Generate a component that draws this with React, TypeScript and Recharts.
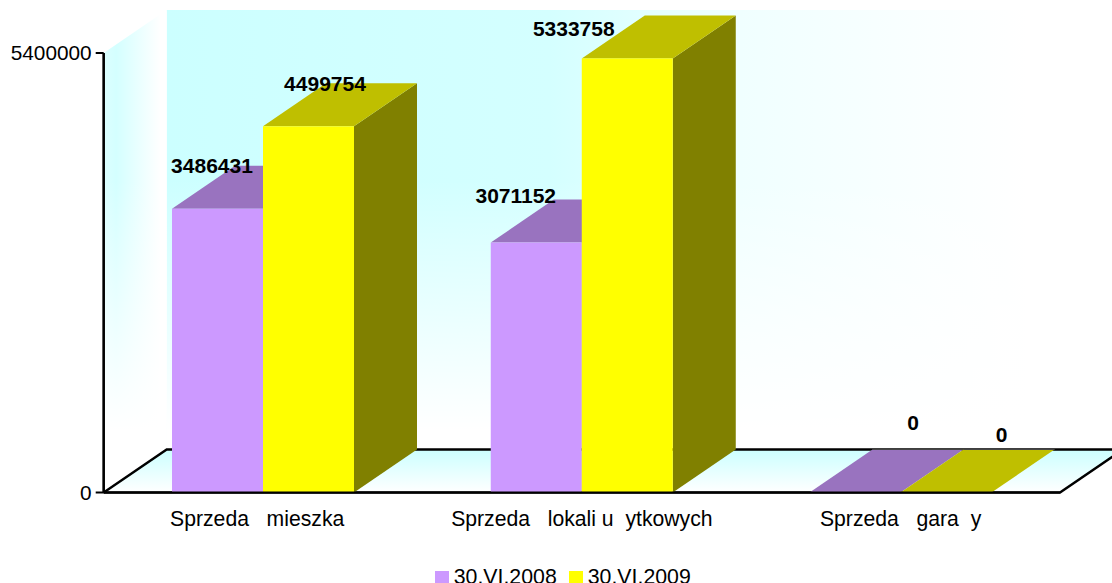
import { BarChart, Bar, XAxis, YAxis, LabelList, Legend, usePlotArea } from "recharts";

const NB = "\u00a0";
const categories = [
  `Sprzeda${NB}${NB}${NB}mieszka${NB}${NB}`,
  `Sprzeda${NB}${NB}${NB}lokali${NB}u${NB}${NB}ytkowych`,
  `Sprzeda${NB}${NB}${NB}gara${NB}${NB}y`,
];
const values2008 = [3486431, 3071152, 0];
const values2009 = [4499754, 5333758, 0];
const yTicks = [0, 5400000];
const seriesNames = ["30.VI.2008", "30.VI.2009"];

const chartData = categories.map((name, i) => ({
  name,
  v2008: values2008[i],
  v2009: values2009[i],
}));

// the labels sit where they were dragged in the original, not over the bars
const labelNudge2008 = [[-5.5, -43], [-20.5, -47], [58, -70]];
const labelNudge2009 = [[16.5, -43], [-53.5, -30], [55.5, -58]];

const DEPTH_X = 63;
const DEPTH_Y = 43;
const FONT = "'Liberation Sans', Arial, sans-serif";

function Box3D(props: any) {
  const { x, y, width, height, front, top, side } = props;
  const r = x + width;
  const b = y + height;
  return (
    <g>
      <polygon
        points={`${r},${y} ${r + DEPTH_X},${y - DEPTH_Y} ${r + DEPTH_X},${b - DEPTH_Y} ${r},${b}`}
        fill={side}
      />
      <polygon
        points={`${x},${y} ${r},${y} ${r + DEPTH_X},${y - DEPTH_Y} ${x + DEPTH_X},${y - DEPTH_Y}`}
        fill={top}
      />
      {height > 0 && <rect x={x} y={y} width={width} height={height} fill={front} />}
      {!height && (
        <line x1={x + DEPTH_X} y1={y - DEPTH_Y} x2={r + DEPTH_X} y2={y - DEPTH_Y} stroke="#444" strokeWidth={1} />
      )}
    </g>
  );
}

function Walls() {
  const plot = usePlotArea();
  if (!plot) return null;
  const l = plot.x;
  const r = plot.x + plot.width;
  const t = plot.y;
  const b = plot.y + plot.height;
  const backL = l + DEPTH_X;
  const backT = t - DEPTH_Y;
  const backB = b - DEPTH_Y;
  const sidePoints = `${l},${t} ${backL},${backT} ${backL},${backB} ${l},${b}`;
  return (
    <g>
      <defs>
        <linearGradient id="backWall" x1="0" y1="0" x2="1" y2="0">
          <stop offset="0" stopColor="#ccffff" />
          <stop offset="0.4" stopColor="#d4ffff" />
          <stop offset="0.6" stopColor="#f0ffff" />
          <stop offset="0.9" stopColor="#ffffff" />
        </linearGradient>
        <linearGradient id="sideWall" x1="0" y1="0" x2="1" y2="0">
          <stop offset="0" stopColor="#dcffff" />
          <stop offset="0.2" stopColor="#d4ffff" />
          <stop offset="0.9" stopColor="#ffffff" />
        </linearGradient>
        <linearGradient id="wallFade" gradientUnits="userSpaceOnUse" x1="0" y1={backT + 170} x2="0" y2={backT + 420}>
          <stop offset="0" stopColor="#ffffff" stopOpacity={0} />
          <stop offset="1" stopColor="#ffffff" stopOpacity={1} />
        </linearGradient>
        <linearGradient id="floorFill" x1="0" y1="0" x2="0" y2="1">
          <stop offset="0" stopColor="#ccffff" />
          <stop offset="1" stopColor="#ffffff" />
        </linearGradient>
      </defs>
      <rect x={backL} y={backT} width={r - l} height={backB - backT} fill="url(#backWall)" />
      <rect x={backL} y={backT} width={r - l} height={backB - backT} fill="url(#wallFade)" />
      <polygon points={sidePoints} fill="url(#sideWall)" />
      <polygon points={sidePoints} fill="url(#wallFade)" />
      <polygon points={`${l},${b} ${backL},${backB} ${r + DEPTH_X},${backB} ${r},${b}`} fill="url(#floorFill)" />
      <polyline
        points={`${l},${b} ${backL},${backB} ${r + DEPTH_X},${backB}`}
        fill="none"
        stroke="#000"
        strokeWidth={2.4}
      />
      <polyline points={`${l},${b} ${r},${b} ${r + DEPTH_X},${backB}`} fill="none" stroke="#000" strokeWidth={2.4} />
    </g>
  );
}

// axis edges go back on top, the walls and bars would cover them otherwise
function FrontEdges() {
  const plot = usePlotArea();
  if (!plot) return null;
  const b = plot.y + plot.height;
  return (
    <g>
      <line x1={plot.x} y1={plot.y} x2={plot.x} y2={b} stroke="#000" strokeWidth={2.4} />
      <line x1={plot.x} y1={b} x2={plot.x + plot.width} y2={b} stroke="#333" strokeWidth={1.2} />
    </g>
  );
}

function valueLabel(nudge: number[][]) {
  return (props: any) => {
    const { x, y, width, value, index } = props;
    const [dx, dy] = nudge[index];
    return (
      <text
        x={x + width / 2 + dx}
        y={y + dy + 7.5}
        textAnchor="middle"
        fontFamily={FONT}
        fontSize={21}
        fontWeight="bold"
        fill="#000"
      >
        {value}
      </text>
    );
  };
}

function LegendRow() {
  const item = (color: string, name: string) => (
    <span key={name} style={{ display: "inline-flex", alignItems: "center", marginRight: 12 }}>
      <span style={{ width: 14, height: 14, background: color, marginRight: 5, marginTop: 3, display: "inline-block" }} />
      {name}
    </span>
  );
  return (
    <div
      style={{
        height: 40.5,
        boxSizing: "border-box",
        paddingTop: 22,
        paddingLeft: 77.5,
        textAlign: "center",
        fontFamily: FONT,
        fontSize: 21.3,
        lineHeight: "24px",
        color: "#000",
        whiteSpace: "nowrap",
      }}
    >
      {item("#cc99ff", seriesNames[0])}
      {item("#ffff00", seriesNames[1])}
    </div>
  );
}

export default function App() {
  return (
    <div style={{ position: "absolute", left: 0, top: 0, width: 1112, height: 583, overflow: "hidden", background: "#fff" }}>
      <BarChart
        width={1112}
        height={583}
        data={chartData}
        margin={{ top: 53, right: 52, bottom: 0, left: 0 }}
        barCategoryGap={68.3}
        barGap={0}
        style={{ overflow: "hidden" }}
      >
        <Walls />
        <XAxis
          dataKey="name"
          height={50}
          interval={0}
          tickLine={false}
          axisLine={{ stroke: "#000", strokeWidth: 2 }}
          tick={{ fontFamily: FONT, fontSize: 21.2, fill: "#000" }}
          tickMargin={12}
        />
        <YAxis
          width={103.7}
          domain={[0, 5400000]}
          ticks={yTicks}
          interval={0}
          tickSize={8}
          tickMargin={4}
          axisLine={{ stroke: "#000", strokeWidth: 2 }}
          tickLine={{ stroke: "#000", strokeWidth: 2 }}
          tick={{ fontFamily: FONT, fontSize: 20.8, fill: "#000" }}
        />
        <Bar
          dataKey="v2008"
          name={seriesNames[0]}
          isAnimationActive={false}
          fill="#cc99ff"
          shape={(p: any) => <Box3D {...p} front="#cc99ff" top="#9973bf" side="#665080" />}
        >
          <LabelList dataKey="v2008" content={valueLabel(labelNudge2008)} />
        </Bar>
        <Bar
          dataKey="v2009"
          name={seriesNames[1]}
          isAnimationActive={false}
          fill="#ffff00"
          shape={(p: any) => <Box3D {...p} front="#ffff00" top="#bfbf00" side="#808000" />}
        >
          <LabelList dataKey="v2009" content={valueLabel(labelNudge2009)} />
        </Bar>
        <FrontEdges />
        <Legend verticalAlign="bottom" content={<LegendRow />} />
      </BarChart>
    </div>
  );
}
